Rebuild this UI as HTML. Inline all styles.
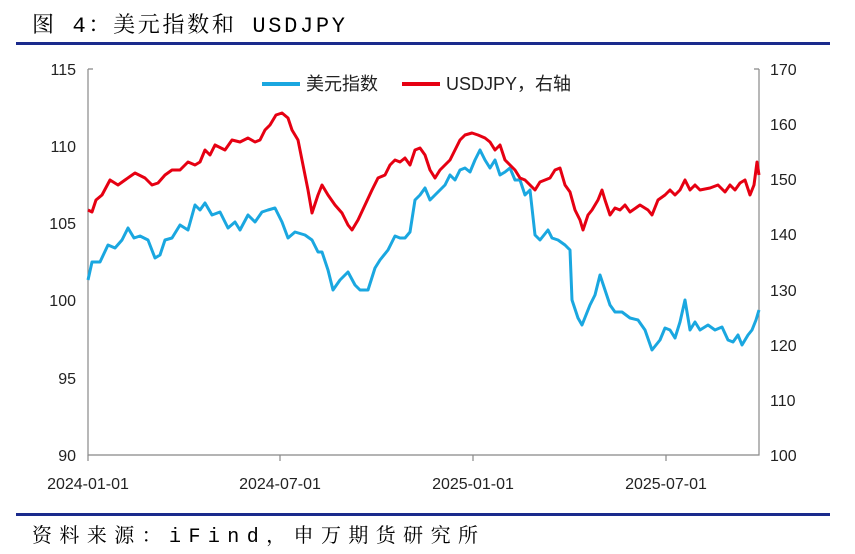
<!DOCTYPE html>
<html><head><meta charset="utf-8"><style>
body{margin:0;background:#fff;width:855px;height:554px;overflow:hidden}
svg{display:block}
</style></head><body>
<svg width="855" height="554" xmlns="http://www.w3.org/2000/svg" font-family="Liberation Sans, sans-serif">
<text x="32" y="32" font-size="22" textLength="313" lengthAdjust="spacing" font-family="Liberation Mono, Noto Serif CJK SC, serif" fill="#000">图 4：美元指数和 USDJPY</text>
<rect x="16" y="42" width="814" height="3" fill="#1a2a8c"/>
<rect x="16" y="513" width="814" height="3" fill="#1a2a8c"/>
<text x="32" y="542" font-size="20" textLength="446" lengthAdjust="spacing" font-family="Liberation Mono, Noto Serif CJK SC, serif" fill="#000">资料来源：iFind，申万期货研究所</text>
<g stroke="#888" stroke-width="1.2" fill="none">
<path d="M88,69 V455 H759 V69"/>
<path d="M88,69 h5 M759,69 h-5"/>
<path d="M88,455 v6 M280,455 v6 M473,455 v6 M666,455 v6"/>
</g>
<g font-size="16" fill="#222" text-anchor="end">
<text x="76" y="75">115</text><text x="76" y="152">110</text><text x="76" y="229">105</text>
<text x="76" y="306">100</text><text x="76" y="384">95</text><text x="76" y="461">90</text>
</g>
<g font-size="16" fill="#222">
<text x="770" y="75">170</text><text x="770" y="130">160</text><text x="770" y="185">150</text>
<text x="770" y="240">140</text><text x="770" y="296">130</text><text x="770" y="351">120</text>
<text x="770" y="406">110</text><text x="770" y="461">100</text>
</g>
<g font-size="16" fill="#222" text-anchor="middle">
<text x="88" y="489">2024-01-01</text><text x="280" y="489">2024-07-01</text>
<text x="473" y="489">2025-01-01</text><text x="666" y="489">2025-07-01</text>
</g>
<polyline fill="none" stroke="#1aa7e0" stroke-width="3" stroke-linejoin="round" points="88,280 92,262 100,262 108,245 115,248 122,240 128,228 134,238 140,236 148,240 155,258 160,255 165,240 172,238 180,225 188,230 195,205 200,210 205,203 212,215 220,212 228,228 235,222 240,230 248,215 255,222 262,212 268,210 275,208 282,222 288,238 295,232 305,235 312,240 318,252 322,252 328,270 333,290 340,280 348,272 355,285 360,290 368,290 375,268 380,260 388,250 395,236 400,238 405,238 410,232 415,200 420,195 425,188 430,200 435,195 440,190 445,185 450,175 455,180 460,170 465,168 470,172 475,160 480,150 485,160 490,168 495,160 500,175 505,172 510,168 515,180 520,180 525,195 530,190 535,235 540,240 548,230 552,238 558,240 565,245 570,250 572,300 578,318 582,325 590,305 595,295 600,275 605,290 610,305 615,312 622,312 630,318 638,320 645,330 652,350 660,340 665,328 670,330 675,338 680,322 685,300 690,330 695,322 700,330 708,325 715,330 722,327 728,340 733,342 738,335 742,345 748,335 752,330 756,320 759,310"/>
<polyline fill="none" stroke="#e60012" stroke-width="3" stroke-linejoin="round" points="88,210 92,212 96,200 102,195 110,180 118,185 125,180 135,173 145,178 152,185 158,183 165,175 172,170 180,170 188,162 195,165 200,162 205,150 210,155 215,145 225,150 232,140 240,142 248,138 255,142 260,140 265,130 270,125 276,115 282,113 288,118 292,130 298,140 303,165 308,190 312,213 318,195 322,185 328,195 335,205 342,213 348,225 352,230 358,220 365,205 372,190 378,178 385,175 390,165 395,160 400,162 405,158 410,165 415,150 420,148 425,155 430,170 435,178 440,170 445,165 450,160 455,150 460,140 465,135 472,133 478,135 485,138 490,142 495,150 500,145 505,160 510,165 515,170 520,178 525,180 530,185 535,190 540,182 545,180 550,178 555,170 560,168 565,185 570,192 575,210 580,220 583,230 588,215 592,210 598,200 602,190 605,200 610,215 615,208 620,210 625,205 630,212 640,205 648,210 652,215 658,200 665,195 670,190 675,195 680,190 685,180 690,190 695,185 700,190 710,188 718,185 725,192 730,185 735,190 740,183 745,180 750,195 754,185 757,162 759,175"/>
<line x1="262" y1="84" x2="300" y2="84" stroke="#1aa7e0" stroke-width="4"/>
<text x="306" y="90" font-size="18" font-family="Liberation Sans, Noto Sans CJK SC, sans-serif" fill="#222">美元指数</text>
<line x1="402" y1="84" x2="440" y2="84" stroke="#e60012" stroke-width="4"/>
<text x="446" y="90" font-size="18" font-family="Liberation Sans, Noto Sans CJK SC, sans-serif" fill="#222">USDJPY，右轴</text>
</svg>
</body></html>
